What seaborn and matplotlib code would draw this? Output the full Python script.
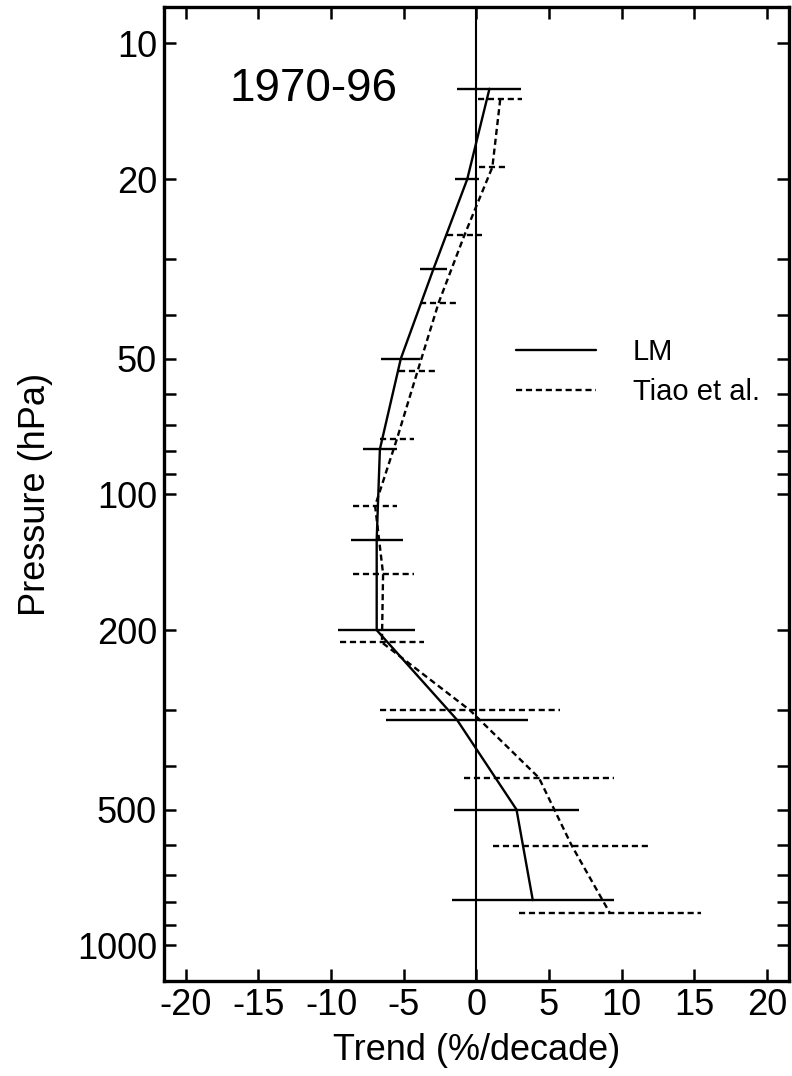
import numpy as np
import pandas as pd
import seaborn as sns
import matplotlib.pyplot as plt
from matplotlib.ticker import FixedLocator, NullFormatter

# LM profile (pressure in hPa, trend in %/decade, half width of error bar)
lm_p = [12.6, 20, 31.6, 50, 79.4, 126, 200, 316, 500, 794]
lm_trend = [0.9, -0.63, -2.95, -5.2, -6.64, -6.86, -6.86, -1.34, 2.76, 3.88]
lm_err = [2.2, 0.82, 0.9, 1.33, 1.16, 1.8, 2.66, 4.9, 4.28, 5.57]

# Tiao et al. profile
tiao_p = [13.3, 18.8, 26.6, 37.6, 53.2, 75.2, 106, 150, 213, 301, 425, 601, 850]
tiao_trend = [1.64, 1.1, -0.82, -2.6, -4.04, -5.46, -6.97, -6.42, -6.5, -0.45, 4.3, 6.56, 9.2]
tiao_err = [1.5, 0.95, 1.2, 1.3, 1.3, 1.16, 1.5, 2.1, 2.9, 6.2, 5.15, 5.4, 6.24]

major_p = [10, 20, 50, 100, 200, 500, 1000]
minor_p = [30, 40, 60, 70, 80, 90, 300, 400, 600, 700, 800, 900]
x_ticks = [-20, -15, -10, -5, 0, 5, 10, 15, 20]

sns.set_style("ticks")
plt.rcParams['font.family'] = ['Liberation Sans', 'DejaVu Sans']
plt.rcParams['axes.unicode_minus'] = False
for k in ['text.color', 'axes.labelcolor', 'xtick.color', 'ytick.color', 'axes.edgecolor']:
    plt.rcParams[k] = 'black'

lm = pd.DataFrame({'p': lm_p, 'trend': lm_trend, 'err': lm_err})
tiao = pd.DataFrame({'p': tiao_p, 'trend': tiao_trend, 'err': tiao_err})

dash = (0, (2.6, 1.6))

fig = plt.figure(figsize=(7.92, 10.76), dpi=100)
ax = fig.add_axes([0.207, 0.0883, 0.789, 0.9052])

ax.axvline(0, color='k', lw=1.5, zorder=1)

sns.lineplot(data=lm, x='trend', y='p', orient='y', sort=False, estimator=None,
             color='k', lw=1.7, label='LM', ax=ax)
sns.lineplot(data=tiao, x='trend', y='p', orient='y', sort=False, estimator=None,
             color='k', lw=1.7, label='Tiao et al.', ax=ax)
ax.lines[-1].set_linestyle(dash)

# horizontal error bars
ax.hlines(lm['p'], lm['trend'] - lm['err'], lm['trend'] + lm['err'],
          colors='k', lw=1.7)
ax.hlines(tiao['p'], tiao['trend'] - tiao['err'], tiao['trend'] + tiao['err'],
          colors='k', lw=1.7, linestyles=[dash])

ax.set_yscale('log')
ax.set_ylim(1200, 8.3)
ax.set_xlim(-21.5, 21.5)
ax.yaxis.set_major_locator(FixedLocator(major_p))
ax.set_yticklabels([str(v) for v in major_p])
ax.yaxis.set_minor_locator(FixedLocator(minor_p))
ax.yaxis.set_minor_formatter(NullFormatter())
ax.set_xticks(x_ticks)
ax.set_xticklabels([str(v) for v in x_ticks])

ax.tick_params(which='both', direction='in', length=8.6, width=1.8,
               top=True, right=True, labelsize=26, pad=5)
for s in ax.spines.values():
    s.set_linewidth(2.4)

ax.set_xlabel('Trend (%/decade)', fontsize=26, labelpad=7)
ax.set_ylabel('Pressure (hPa)', fontsize=26, labelpad=17)

ax.text(-17, 12.6, '1970-96', fontsize=33, ha='left', va='center')

handles, labels = ax.get_legend_handles_labels()
handles[1].set_linestyle(dash)
ax.legend(handles, labels, loc='upper left', bbox_to_anchor=(0.5635, 0.66),
          frameon=False, fontsize=21, handlelength=2.75, handletextpad=1.25,
          borderpad=0, borderaxespad=0, labelspacing=0.42)

fig.savefig('out.png', dpi=100)
